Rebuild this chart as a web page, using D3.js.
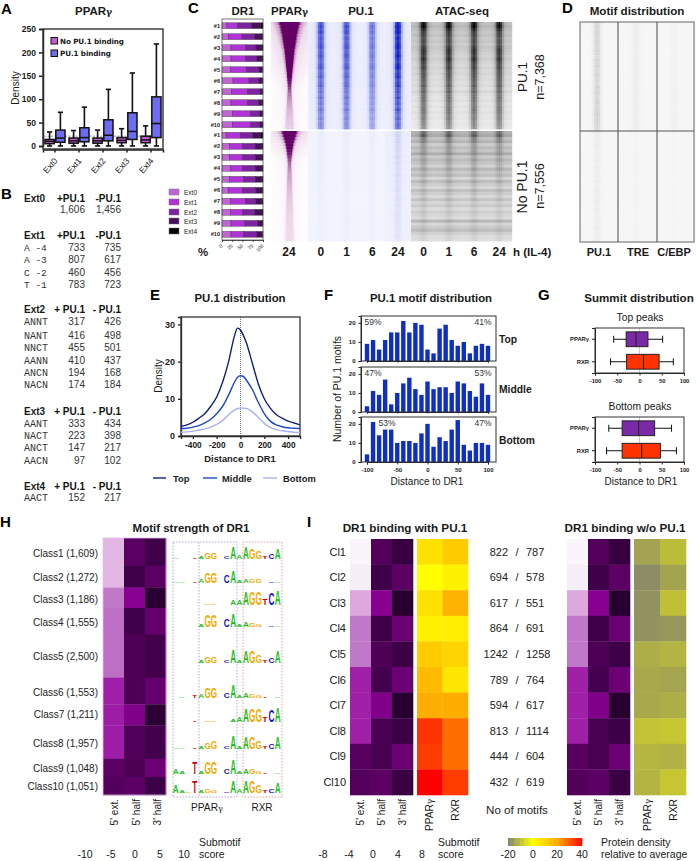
<!DOCTYPE html>
<html><head><meta charset="utf-8">
<script src="https://cdnjs.cloudflare.com/ajax/libs/d3/7.8.5/d3.min.js"></script>
<style>
html,body{margin:0;padding:0;background:#fff}
svg{display:block}
text{font-family:"Liberation Sans",Arial,sans-serif;fill:#1a1a1a}
</style></head><body><div id="c"></div>
<script>
// ---------- DATA ----------
const extNames=["Ext0","Ext1","Ext2","Ext3","Ext4"];
// [low, q1, median, q3, high]
const boxNoPU=[[0,5,10,14,30],[0,6,11,17,33],[0,6,11,17,34],[0,7,12,18,37],[0,7,13,21,43]];
const boxPU=[[0,8,17,34,72],[0,9,18,39,83],[0,11,23,56,121],[0,14,31,71,156],[0,18,48,105,218]];
const tableRows=[
 ["h","Ext0","+PU.1","-PU.1",198],["","","1,606","1,456",209],
 ["h","Ext1","+PU.1","-PU.1",235],["s","A -4","733","735",247],["s","A -3","807","617",259],["s","C -2","460","456",272],["s","T -1","783","723",284],
 ["h","Ext2","+ PU.1","- PU.1",309],["m","ANNT","317","426",321],["m","NANT","416","498",335],["m","NNCT","455","501",347],["m","AANN","410","437",360],["m","ANCN","194","168",372],["m","NACN","174","184",384],
 ["h","Ext3","+ PU.1","- PU.1",411],["m","AANT","333","434",423],["m","NACT","223","398",435],["m","ANCT","147","217",447],["m","AACN","97","102",460],
 ["h","Ext4","+ PU.1","- PU.1",486],["m","AACT","152","217",497]];
const dr1Top=[[11,27,34,22,6],[15,34,31,19,1],[22,36,25,13,4],[22,36,27,12,3],[21,38,30,10,1],[27,39,23,11,0],[23,40,30,6,1],[22,40,27,8,3],[26,43,22,8,1],[25,44,23,6,2]];
const dr1Bottom=[[10,35,30,20,5],[18,32,31,16,3],[18,32,31,16,3],[20,30,31,16,3],[18,34,29,16,3],[15,36,31,16,2],[20,38,24,15,3],[20,31,29,16,4],[22,34,31,11,2],[22,31,31,15,1]];
const pparWidthTop=[10.5,9.5,8.8,8.2,7.5,7,6.6,6.1,5.6,5,4.7,4.4,4.1,3.8,3.5,3.2,2.9,2.6,2.3,2.1,1.9,1.8,1.8,1.9,2,2.2,2.4,2.6,2.8,3,3.2,3.4,3.6,3.8,4,4.2];
const pparPeakTop=[1,1,1,1,1,1,1,1,1,1,1,1,1,1,1,1,1,1,.98,.95,.9,.82,.72,.62,.54,.48,.43,.39,.36,.33,.31,.29,.27,.25,.24,.22];
const pparWidthBottom=[7.5,6.5,5.5,4.6,3.8,3.2,2.8,2.4,2.1,1.9,1.8,1.8,1.9,2,2.1,2.2,2.3,2.4,2.5,2.6,2.7,2.8,2.9,3,3.1,3.2,3.3,3.4,3.5,3.6,3.7,3.8,3.9,4,4.1,4.2];
const pparPeakBottom=[1,1,1,1,1,1,.95,.88,.78,.68,.6,.54,.48,.44,.4,.38,.35,.33,.31,.3,.28,.27,.26,.24,.23,.22,.21,.2,.2,.19,.18,.18,.17,.17,.16,.16];
const puRowsTop=[.85,1,.9,.98,.8,.9,.82,.88,.95,.8,.84,.92,.8,.76,.86,.9,.72,.78,.85,.7,.75,.8,.66,.7,.62,.72,.6,.66,.56,.7,.58,.52,.6,.5,.55,.52];
const puRowsBottom=[.09,.1,.09,.1,.08,.09,.08,.07,.09,.07,.08,.06,.07,.06,.08,.06,.07,.06,.06,.07,.05,.06,.06,.05,.06,.05,.05,.06,.05,.05,.05,.04,.05,.04,.05,.04];
const puTimes=["0","1","6","24"];
const puGain=[.8,.8,.6,1.1];
const puGainBottom=[.3,.3,.3,1.1];
const puProfile=[.01,.02,.03,.06,.25,.8,1,.8,.25,.06,.03,.02,.01];
const atacBgTop=[.24,.27,.24,.21,.24,.2,.22,.19,.22,.2,.18,.16,.19,.16,.14,.17,.14,.16,.13,.14,.12,.14,.11,.15,.12,.1,.12,.09,.11,.09,.11,.09,.1,.08,.09,.08];
const atacPeakTop=[.72,.74,.64,.58,.52,.52,.52,.52,.56,.64,.64,.62,.66,.62,.6,.6,.56,.54,.56,.52,.52,.54,.5,.5,.46,.5,.46,.46,.44,.48,.44,.42,.42,.4,.38,.35];
const atacBgBottom=[.3,.34,.24,.3,.2,.27,.23,.33,.21,.27,.23,.18,.28,.21,.25,.16,.26,.2,.16,.25,.2,.15,.23,.16,.21,.14,.19,.16,.14,.28,.16,.21,.26,.18,.14,.13];
const atacPeakBottom=[.3,.34,.28,.22,.2,.16,.18,.14,.14,.14,.12,.14,.12,.1,.1,.1,.1,.08,.08,.08,.08,.08,.08,.06,.06,.06,.06,.06,.06,.06,.05,.05,.05,.05,.05,.05];
const atacTimes=["0","1","6","24"];
const atacProfile=[.01,.02,.04,.1,.32,.82,1,.82,.32,.1,.04,.02,.01];
const motifRowsTop=[.12,.14,.13,.15,.14,.13,.15,.14,.13,.15,.14,.12,.15,.14,.16,.13,.14,.16,.13,.14,.12,.16,.14,.15,.13,.14,.16,.13,.14,.15,.16,.14,.16,.15,.14,.13];
const motifRowsBottom=[.05,.04,.05,.04,.05,.05,.04,.05,.04,.05,.04,.05,.04,.04,.05,.04,.05,.04,.04,.05,.04,.04,.05,.04,.04,.05,.04,.04,.05,.04,.04,.05,.04,.04,.05,.04];
const motifGain=[1,.5,.3];
const motifProfile=[0,0,0,0,0,.06,.3,.75,1,.75,.3,.06,0,0,0,0,0,0,0];
const motifNames=["PU.1","TRE","C/EBP"];
const eX=[-500,-450,-400,-350,-300,-250,-200,-150,-100,-50,-25,0,25,50,100,150,200,250,300,350,400,450,500];
const eTop=[2.6,3,3.7,4.8,6,8,10.5,14.5,20,27,29,28.5,27,25,19.5,14,10,7.5,5.8,4.8,4,3.5,3];
const eMid=[2,2.1,2.4,2.8,3.5,4.5,6,8,11,14.5,15.8,16.2,16,15,12.5,9,6,4,3,2.5,2.2,2.1,2];
const eBot=[1,1.1,1.3,1.6,1.9,2.4,3.1,4.2,5.7,7,7.4,7.5,7.5,7.4,6.5,5,3.4,2.3,1.7,1.4,1.2,1,.9];
const fBins=[-100,-90,-80,-70,-60,-50,-40,-30,-20,-10,0,10,20,30,40,50,60,70,80,90,100];
const fTop=[9,11,6,11,15,15,21,15,20,19,6,4,17,19,11,8,10,4,8,9,8];
const fMid=[3,11,9,17,4,10,15,18,12,9,16,12,13,13,10,16,15,11,8,15,9];
const fBot=[4,21,14,17,17,10,11,11,10,15,20,8,13,11,17,22,9,6,10,10,9];
const gTop=[[-58,-30,-8,19,52],[-65,-29,9,44,76]];
const gBot=[[-69,-39,-2,34,72],[-74,-39,5,47,83]];
const classNames=["Class1 (1,609)","Class2 (1,272)","Class3 (1,186)","Class4 (1,555)","Class5 (2,500)","Class6 (1,553)","Class7 (1,211)","Class8 (1,957)","Class9 (1,048)","Class10 (1,051)"];
const classSizes=[1609,1272,1186,1555,2500,1553,1211,1957,1048,1051];
const scoresH=[[-6.8,3.9,6.3],[-6.8,6.2,3.9],[-3.8,1.2,8.5],[-3.5,6,3.3],[-3.5,5,5.8],[-1.2,5,3.2],[-1,1.7,8.2],[-1,4.7,5.8],[3.9,5.2,2.7],[4.5,3.7,6.5]];
const logoLetters=["A","A","G","T","A","G","G","A","C","A","A","A","G","G","T","C","A"];
const logoHeights=[
 [1,0,0,1,3,6,6,0,2,12,4,11,10,7,3,5,10],
 [1,1,0,1,4,10,10,0,7,12,3,4,4,4,0,1,1],
 [0,0,0,0,0,1,1,0,0,5,5,13,13,13,6,12,14],
 [0,0,0,0,3,11,11,0,7,13,3,5,4,3,0,1,1],
 [0,0,0,0,2,6,6,0,3,13,3,11,11,8,3,5,11],
 [0,1,0,2,4,10,10,0,5,13,3,5,4,3,1,0,1],
 [0,0,0,1,0,1,1,0,0,3,5,13,13,13,5,12,14],
 [1,1,0,1,3,6,7,0,3,13,3,11,11,8,3,5,11],
 [5,3,0,11,3,11,11,0,5,14,3,5,5,3,1,0,1],
 [7,3,1,11,2,4,3,0,1,12,4,11,11,8,3,4,10]];
const logoBaselines=[559,583,605,627,663,698,722,749,774,793];
const clNames=["Cl1","Cl2","Cl3","Cl4","Cl5","Cl6","Cl7","Cl8","Cl9","Cl10"];
const scoresI=[[-7.4,3.6,5.6],[-7,5,3],[-5,1,7],[-3,4.9,2.3],[-3,4,5.1],[-1,4.6,2.2],[-1,1.3,7],[-1,4.3,5.2],[3.3,4.3,2.3],[3.7,3,5.3]];
const densityWith=[[7,12],[0,3],[7,18],[3,4],[12,10],[16,6],[19,19],[34,27],[33,27],[40,33]];
const densityWithout=[[-14.5,-10.5],[-18,-14.3],[-17,-10],[-17,-16.4],[-12.8,-11.8],[-13.5,-14.2],[-13.5,-12.8],[-9.5,-9],[-11.7,-12.3],[-11.8,-9]];
const motifCountsA=[822,694,617,864,1242,789,594,813,444,432];
const motifCountsB=[787,578,551,691,1258,764,617,1114,604,619];

// ---------- HELPERS ----------
const svg=d3.select("#c").append("svg").attr("width",696).attr("height",861);
const G=svg.append("g");
const plain=d=>String(d);
function T(x,y,s,o={}){
  const t=G.append("text").attr("x",x).attr("y",y).text(s)
    .attr("font-size",o.size||10).attr("text-anchor",o.a||"start")
    .attr("font-weight",o.b?"bold":"normal");
  if(o.family)t.style("font-family",o.family);
  if(o.fill)t.style("fill",o.fill);
  if(o.rot!=null)t.attr("transform",`rotate(${o.rot} ${x} ${y})`);
  if(o.ls)t.attr("letter-spacing",o.ls);
  return t;
}
function Tg(x,y,base,o={}){ // text + small gamma
  const t=T(x,y,base,o);
  t.append("tspan").text("γ").attr("font-size",(o.size||10)*.8).style("font-family","'DejaVu Serif'");
  return t;
}
function styleAxis(g,w,size,bold){
  g.selectAll("path,line").attr("stroke","#222").attr("stroke-width",w);
  g.selectAll("text").attr("font-size",size).attr("font-weight",bold?"bold":"normal");
  g.selectAll("text").style("font-family","'Liberation Sans'").style("fill","#1a1a1a");
}
function frame(x0,y0,x1,y1,w=1.2,c="#333"){
  G.append("rect").attr("x",x0).attr("y",y0).attr("width",x1-x0).attr("height",y1-y0)
   .attr("fill","none").attr("stroke",c).attr("stroke-width",w);
}
const letters=[["A",1,14],["B",1,199],["C",188,13],["D",562,13],["E",150,300],["F",324,300],["G",538,300],["H",0,527],["I",307,527]];
letters.forEach(d=>T(d[1],d[2],d[0],{size:15,b:true,fill:"#000"}));

// ---------- A ----------
const colNo="#c95ad6",colPU="#6c6cf2";
Tg(75,15,"PPAR",{size:11.5,b:true});
{
 const x=d3.scaleBand().domain(extNames).range([43,163]);
 const y=d3.scaleLinear().domain([0,250]).range([146,29]);
 G.append("g").attr("transform","translate(0,149.5)").call(d3.axisBottom(x).tickSize(3).tickFormat(""))
  .call(g=>styleAxis(g,1.5,8));
 G.append("g").attr("transform","translate(43,0)").call(d3.axisLeft(y).tickValues([0,50,100,150,200,250]).tickSize(4))
  .call(g=>styleAxis(g,1.5,8.5,true));
 frame(43,29,163,149,1.4);
 G.append("line").attr("x1",44).attr("x2",162).attr("y1",y(21)).attr("y2",y(21)).attr("stroke","#778").attr("stroke-dasharray","2,1.5").attr("stroke-width",.8);
 const drawBox=(b,cx,fill)=>{
  const hw=4.6;
  G.append("line").attr("x1",cx).attr("x2",cx).attr("y1",y(b[0])).attr("y2",y(b[4])).attr("stroke","#111").attr("stroke-width",1.6);
  [b[0],b[4]].forEach(v=>G.append("line").attr("x1",cx-2.6).attr("x2",cx+2.6).attr("y1",y(v)).attr("y2",y(v)).attr("stroke","#111").attr("stroke-width",1.6));
  G.append("rect").attr("x",cx-hw).attr("width",2*hw).attr("y",y(b[3])).attr("height",y(b[1])-y(b[3])).attr("fill",fill).attr("stroke","#111").attr("stroke-width",1.5);
  G.append("line").attr("x1",cx-hw).attr("x2",cx+hw).attr("y1",y(b[2])).attr("y2",y(b[2])).attr("stroke","#111").attr("stroke-width",1.5);
 };
 extNames.forEach((e,i)=>{
  const c=x(e)+x.bandwidth()/2;
  drawBox(boxNoPU[i],c-5.4,colNo); drawBox(boxPU[i],c+5.4,colPU);
  T(c+3,161,e,{size:8.5,a:"end",rot:-50});
 });
 G.append("text").attr("x",0).attr("y",0).text("Density").attr("font-size",10).attr("text-anchor","middle").attr("transform","translate(19,88) rotate(-90)");
 [[colNo,"No PU.1 binding",41],[colPU,"PU.1 binding",53.5]].forEach(d=>{
  G.append("rect").attr("x",51).attr("y",d[2]-3.5).attr("width",6.5).attr("height",6.5).attr("fill",d[0]).attr("stroke","#111");
  T(60,d[2]+2.5,d[1],{size:7.2,b:true,family:"'DejaVu Sans'",ls:-.1});
 });
}

// ---------- B ----------
tableRows.forEach(r=>{
 const bold=r[0]==="h";
 const lab=bold?{size:10,b:true}:{size:r[0]==="m"?10:9.5,family:"'Liberation Mono'",fill:"#333"};
 if(r[1]) T(24,r[4]+3.5,r[1],lab);
 T(85,r[4]+3.5,r[2],{size:10,a:"end",b:bold,fill:bold?"#111":"#333"});
 T(121,r[4]+3.5,r[3],{size:10,a:"end",b:bold,fill:bold?"#111":"#333"});
});

// ---------- C ----------
const extCols=["#c264d6","#b032d8","#7d22a0","#47105c","#000000"];
[["DR1",243],["PU.1",361],["ATAC-seq",462]].forEach(d=>T(d[1],15,d[0],{size:11.5,b:true,a:"middle"}));
Tg(271,15,"PPAR",{size:11.5,b:true});
{
 const xP=d3.scaleLinear().domain([0,100]).range([222,263]);
 const rowsCenter=(rows,y0)=>rows.forEach((r,i)=>{
  const yc=y0+i*11; let acc=0;
  r.forEach((v,j)=>{
   G.append("rect").attr("x",xP(acc)).attr("y",yc-2.9).attr("width",xP(acc+v)-xP(acc)).attr("height",5.8)
    .attr("fill",extCols[j]).attr("stroke","#333").attr("stroke-width",.4);
   acc+=v;
  });
  T(220,yc+2,"#"+(i+1),{size:5.6,b:true,a:"end"});
 });
 rowsCenter(dr1Top,25.7); rowsCenter(dr1Bottom,135.3);
 frame(222,19,263,240,.8,"#555");
 const ax=G.append("g").attr("transform","translate(0,240)").call(d3.axisBottom(xP).tickValues([0,25,50,75,100]).tickSize(2));
 styleAxis(ax,.7,5);
 ax.selectAll("text").attr("transform","rotate(-45) translate(-4,-2)").attr("text-anchor","end").attr("dy",".35em");
 extNames.forEach((e,i)=>{
  const yy=[192,202,212,221,231][i];
  G.append("rect").attr("x",169).attr("y",yy-3).attr("width",10).attr("height",6).attr("fill",extCols[i]).attr("stroke","#777").attr("stroke-width",.5);
  T(184,yy+2.5,e,{size:6.5});
 });
 T(203,256,"%",{size:11.5,b:true,a:"middle"});
 // heatmaps
 const purple=d3.scaleLinear().domain([0,.12,.3,.7,1]).range(["#ffffff","#f4e6f2","#dfbfdb","#9a4a96","#640066"]).clamp(true);
 const fall=d3.scaleLinear().domain([0,.85,1.15,1.8,3.5,8]).range([1,1,.42,.16,.09,.03]).clamp(true);
 const bandsY=(n,y0,y1)=>d3.scaleBand().domain(d3.range(n)).range([y0,y1]);
 const cellsAt=(y,x0,cw,nc,cellFn,n)=>{
  d3.range(n).forEach(r=>{
   d3.range(nc).forEach(c=>{
    G.append("rect").attr("x",x0+c*cw).attr("y",y(r)).attr("width",cw+.4).attr("height",y.bandwidth()+.4).attr("fill",cellFn(r,c));
   });
  });
 };
 const Ytop=bandsY(36,22,129), Ybot=bandsY(36,131,241);
 const pparCell=(W,P)=>(r,c)=>{const d=Math.abs(c+.5-18.5); return purple(P[r]*fall(d/W[r]));};
 cellsAt(Ytop,271,1,37,pparCell(pparWidthTop,pparPeakTop),36);
 cellsAt(Ybot,271,1,37,pparCell(pparWidthBottom,pparPeakBottom),36);
 T(289,256,"24",{size:12,b:true,a:"middle"});
 // PU.1
 const blue=d3.scaleLinear().domain([0,.3,1]).range(["#f6f7fe","#a4abec","#1220cc"]).clamp(true);
 puTimes.forEach((t,i)=>{
  const x0=308+i*25.7;
  cellsAt(Ytop,x0,25.7/13,13,(r,c)=>blue(puRowsTop[r]*puGain[i]*puProfile[c]+.03),36);
  cellsAt(Ybot,x0,25.7/13,13,(r,c)=>blue(puRowsBottom[r]*puGainBottom[i]*(puProfile[c]+.2*(i==3?1:0))+.015),36);
  T(x0+12.9,256,t,{size:12,b:true,a:"middle"});
 });
 // ATAC
 const gray=d3.scaleLinear().domain([0,1]).range(["#ffffff","#050505"]).clamp(true);
 atacTimes.forEach((t,i)=>{
  const x0=411+i*25.2;
  cellsAt(Ytop,x0,25.2/13,13,(r,c)=>gray(atacBgTop[r]+atacPeakTop[r]*atacProfile[c]),36);
  cellsAt(Ybot,x0,25.2/13,13,(r,c)=>gray(atacBgBottom[r]+atacPeakBottom[r]*atacProfile[c]),36);
  T(x0+12.6,256,t,{size:12,b:true,a:"middle"});
 });
 T(513,256,"h (IL-4)",{size:11.5,b:true});
 [["PU.1",527,77,13.5],["n=7,368",544,77,12.5],["No PU.1",527,187,14],["n=7,556",544,186,12.5]].forEach(d=>
   G.append("text").text(d[0]).attr("font-size",d[3]).attr("text-anchor","middle").attr("transform",`translate(${d[1]},${d[2]}) rotate(-90)`));
}

// ---------- D ----------
T(637,15,"Motif distribution",{size:11.6,b:true,a:"middle"});
{
 const gray=d3.scaleLinear().domain([0,1]).range(["#f6f6f6","#8a8a8a"]).clamp(true);
 const xs=[580,618.5,657];
 const cw=38.3/19;
 const yT=d3.scaleBand().domain(d3.range(36)).range([22,131]);
 const yB=d3.scaleBand().domain(d3.range(36)).range([131,242]);
 motifNames.forEach((n,i)=>{
  [[yT,motifRowsTop],[yB,motifRowsBottom]].forEach(([y,R],g)=>{
   d3.range(36).forEach(r=>d3.range(19).forEach(c=>{
    G.append("rect").attr("x",xs[i]+c*cw).attr("y",y(r)).attr("width",cw+.3).attr("height",y.bandwidth()+.3)
     .attr("fill",gray((i==0?R[r]*2.2:R[r]*motifGain[i]*1.2)*motifProfile[c]));
   }));
  });
  T([599,638,674][i],256,n,{size:11,b:true,a:"middle"});
 });
 frame(580,22,694,242,1,"#666");
 [618,657].forEach(x=>G.append("line").attr("x1",x).attr("x2",x).attr("y1",22).attr("y2",242).attr("stroke","#333").attr("stroke-width",.9));
 G.append("line").attr("x1",580).attr("x2",694).attr("y1",131).attr("y2",131).attr("stroke","#555").attr("stroke-width",1);
}

// ---------- E ----------
T(240,302,"PU.1 distribution",{size:11.4,b:true,a:"middle"});
{
 const x=d3.scaleLinear().domain([-500,500]).range([181,300]);
 const y=d3.scaleLinear().domain([0,32]).range([436,317]);
 G.append("g").attr("transform","translate(0,436)").call(d3.axisBottom(x).tickValues([-400,-200,0,200,400]).tickSize(3).tickFormat(plain)).call(g=>styleAxis(g,1.3,8.3,true));
 G.append("g").attr("transform","translate(181,0)").call(d3.axisLeft(y).tickValues([0,10,20,30]).tickSize(3)).call(g=>styleAxis(g,1.3,9,true));
 frame(181,317,300,436,1.3);
 G.append("line").attr("x1",x(0)).attr("x2",x(0)).attr("y1",317).attr("y2",436).attr("stroke","#333").attr("stroke-dasharray","1,1").attr("stroke-width",.7);
 const line=d3.line().x((d,i)=>x(eX[i])).y(d=>y(d)).curve(d3.curveMonotoneX);
 const cols=["#141f78","#1f46cc","#a9b2ee"];
 [eTop,eMid,eBot].forEach((s,i)=>G.append("path").attr("d",line(s)).attr("fill","none").attr("stroke",cols[i]).attr("stroke-width",1.4));
 T(240,462,"Distance to DR1",{size:9.3,b:true,a:"middle"});
 [[153,166,173,"Top"],[203,217,222,"Middle"],[263,277,283,"Bottom"]].forEach((d,i)=>{
  G.append("line").attr("x1",d[0]).attr("x2",d[1]).attr("y1",478).attr("y2",478).attr("stroke",cols[i]).attr("stroke-width",1.4);
  T(d[2],482,d[3],{size:9.4,b:true,fill:"#222"});
 });
 G.append("text").text("Density").attr("font-size",10).attr("text-anchor","middle").attr("transform","translate(161.5,376) rotate(-90)");
}

// ---------- F ----------
T(431,302,"PU.1 motif distribution",{size:11.4,b:true,a:"middle"});
{
 const x=d3.scaleLinear().domain([-100,100]).range([367,488]);
 const panels=[[fTop,316,361,"59%","41%","Top",373],[fMid,367,412,"47%","53%","Middle",373],[fBot,417,462,"53%","47%","Bottom",387]];
 panels.forEach(([v,y0,y1,l,r,name,lx],pi)=>{
  const y=d3.scaleLinear().domain([0,23.6]).range([y1,y0]);
  G.selectAll(null).data(v).join("rect").attr("x",(d,i)=>x(fBins[i])-2.2).attr("width",4.4)
   .attr("y",d=>y(d)).attr("height",d=>y1-y(d)).attr("fill","#0f2fc4");
  G.append("g").attr("transform",`translate(361,0)`).call(d3.axisLeft(y).tickValues([0,10,20]).tickSize(2.5)).call(g=>styleAxis(g,1,6,true));
  const ax=G.append("g").attr("transform",`translate(0,${y1})`).call(d3.axisBottom(x).tickValues([-100,-50,0,50,100]).tickSize(pi==2?2.5:1.5).tickFormat(pi==2?plain:""));
  styleAxis(ax,1,6,true);
  frame(361,y0,496,y1,1);
  T(lx,y0+9,l,{size:8.5,a:"middle",fill:"#333"});
  T(483,y0+9,r,{size:8.5,a:"middle",fill:"#333"});
  T(499,[343,393,444][pi],name,{size:10.3,b:true});
 });
 G.append("text").text("Number of PU.1 motifs").attr("font-size",10.5).attr("text-anchor","middle").attr("transform","translate(341,389) rotate(-90)");
 T(427,485,"Distance to DR1",{size:10,a:"middle"});
}

// ---------- G ----------
T(639,302,"Summit distribution",{size:11.6,b:true,a:"middle"});
{
 const x=d3.scaleLinear().domain([-100,100]).range([595,684]);
 [[gTop,328,373,"Top peaks",321],[gBot,417,462,"Bottom peaks",410]].forEach(([v,y0,y1,t,ty])=>{
  T(640,ty,t,{size:10.3,a:"middle"});
  G.append("line").attr("x1",x(0)).attr("x2",x(0)).attr("y1",y0).attr("y2",y1).attr("stroke","#ccc").attr("stroke-width",1);
  const y=d3.scaleBand().domain(["PPARγ","RXR"]).range([y0,y1]);
  [v[0],v[1]].forEach((b,i)=>{
   const c=y(["PPARγ","RXR"][i])+y.bandwidth()/2, hh=7.4;
   G.append("line").attr("x1",x(b[0])).attr("x2",x(b[4])).attr("y1",c).attr("y2",c).attr("stroke","#111").attr("stroke-width",1);
   [b[0],b[4]].forEach(q=>G.append("line").attr("x1",x(q)).attr("x2",x(q)).attr("y1",c-3.5).attr("y2",c+3.5).attr("stroke","#111").attr("stroke-width",1));
   G.append("rect").attr("x",x(b[1])).attr("width",x(b[3])-x(b[1])).attr("y",c-hh).attr("height",2*hh).attr("fill",i?"#ff3300":"#7a2aa6").attr("stroke","#222").attr("stroke-width",1);
   G.append("line").attr("x1",x(b[2])).attr("x2",x(b[2])).attr("y1",c-hh).attr("y2",c+hh).attr("stroke","#222").attr("stroke-width",1);
  });
  const ax=G.append("g").attr("transform",`translate(595,0)`).call(d3.axisLeft(y).tickSize(3));
  styleAxis(ax,1,5.8,true);
  const bx=G.append("g").attr("transform",`translate(0,${y1})`).call(d3.axisBottom(x).tickValues([-100,-50,0,50,100]).tickSize(2.5).tickFormat(plain));
  styleAxis(bx,1,5.8,true);
  frame(595,y0,684,y1,1,"#333");
 });
 T(641,485,"Distance to DR1",{size:10,a:"middle"});
}

// ---------- H ----------
const purpleStops=[-1,-.875,-.625,-.375,-.125,.125,.375,.625,.875];
const purpleCols=["#ffffff","#f6eef6","#dda8dd","#c078c8","#a020a8","#880090","#5c0064","#3e0048","#280030"];
const purpleH=d3.scaleLinear().domain(purpleStops.map(t=>t*10)).range(purpleCols).clamp(true);
const purpleI=d3.scaleLinear().domain(purpleStops.map(t=>t*8)).range(purpleCols).clamp(true);
const density=d3.scaleLinear().domain([-20,0,20,40]).range(["#808070","#ffff00","#ffaa00","#ff0000"]);
T(191,532,"Motif strength of DR1",{size:11.5,b:true,a:"middle"});
{
 const total=d3.sum(classSizes);
 const yS=d3.scaleLinear().domain([0,total]).range([538,795]);
 const xC=d3.scaleBand().domain([0,1,2]).range([103,166]);
 let acc=0;
 const labelY=[553,577,599,622,656,692,714,743,768,786];
 classSizes.forEach((n,i)=>{
  scoresH[i].forEach((s,j)=>G.append("rect").attr("x",xC(j)).attr("width",xC.bandwidth()+.3).attr("y",yS(acc)).attr("height",yS(acc+n)-yS(acc)+.3).attr("fill",purpleH(s)));
  acc+=n;
  T(98,labelY[i]+3.5,classNames[i],{size:10,a:"end",fill:"#222"});
 });
 frame(103,538,166,795,.8,"#e6bfe6");
 // logos
 const xL=d3.scaleLinear().domain([0,16]).range([175.7,277.8]);
 const cols={A:"#1fbf1f",C:"#1414c0",G:"#f4a800",T:"#d40000"};
 logoHeights.forEach((h,i)=>h.forEach((v,j)=>{
  if(!v) return;
  G.append("text").text(logoLetters[j]).attr("font-size",10).attr("font-weight","bold").attr("text-anchor","middle")
   .style("fill",cols[logoLetters[j]])
   .attr("transform",`translate(${xL(j)},${logoBaselines[i]}) scale(.82,${v/6.9})`);
 }));
 G.append("rect").attr("x",173).attr("y",542).attr("width",64).attr("height",255).attr("fill","none").attr("stroke","#8a6ad0").attr("stroke-width",.6).attr("stroke-dasharray","1.5,1.5");
 G.append("line").attr("x1",199).attr("x2",199).attr("y1",542).attr("y2",797).attr("stroke","#8a6ad0").attr("stroke-width",.6).attr("stroke-dasharray","1.5,1.5");
 G.append("rect").attr("x",243).attr("y",542).attr("width",39).attr("height",255).attr("fill","none").attr("stroke","#e06060").attr("stroke-width",.6).attr("stroke-dasharray","1.5,1.5");
 Tg(191,811,"PPAR",{size:10.2});
 T(262,811,"RXR",{size:10,a:"middle"});
 ["5' ext.","5' half","3' half"].forEach((s,j)=>G.append("text").text(s).attr("font-size",10).attr("text-anchor","end").attr("transform",`translate(${[118,140,161][j]},799) rotate(-90)`));
 T(199,846,"Submotif",{size:10.5}); T(199,858,"score",{size:10.5});
 [[-10,85],[-5,111],[0,135],[5,160],[10,184]].forEach(d=>T(d[1],858,d[0],{size:10.5,a:"middle"}));
}

// ---------- I ----------
{
 const y=d3.scaleBand().domain(d3.range(10)).range([539,795]);
 const heat=(xa,xb,dens,first,titleX,title)=>{
  const x1=d3.scaleBand().domain([0,1,2]).range(xa);
  const x2=d3.scaleBand().domain([0,1]).range(xb);
  scoresI.forEach((r,i)=>{
   r.forEach((s,j)=>G.append("rect").attr("x",x1(j)).attr("y",y(i)).attr("width",x1.bandwidth()+.3).attr("height",y.bandwidth()+.3).attr("fill",purpleI(s)));
   dens[i].forEach((s,j)=>G.append("rect").attr("x",x2(j)).attr("y",y(i)).attr("width",x2.bandwidth()+.3).attr("height",y.bandwidth()+.3).attr("fill",density(s)));
  });
  T(titleX,532,title,{size:11.7,b:true,a:"middle"});
  ["5' ext.","5' half","3' half"].forEach((s,j)=>G.append("text").text(s).attr("font-size",10).attr("text-anchor","end").attr("transform",`translate(${x1(j)+x1.bandwidth()/2+3.5},799) rotate(-90)`));
  const tp=G.append("text").attr("font-size",10.2).attr("text-anchor","end").attr("transform",`translate(${x2(0)+x2.bandwidth()/2+3.5},799) rotate(-90)`).text("PPAR");
  tp.append("tspan").text("γ").attr("font-size",8.5).style("font-family","'DejaVu Serif'");
  G.append("text").text("RXR").attr("font-size",10.3).attr("text-anchor","end").attr("transform",`translate(${x2(1)+x2.bandwidth()/2+3.5},799) rotate(-90)`);
 };
 heat([350,413],[417,468],densityWith,true,405,"DR1 binding with PU.1");
 heat([567,630],[634,686],densityWithout,false,625,"DR1 binding w/o PU.1");
 clNames.forEach((n,i)=>{
  const yc=y(i)+y.bandwidth()/2;
  T(346,yc+3.8,n,{size:11,a:"end",fill:"#222"});
  T(508,yc+3.8,motifCountsA[i],{size:11,a:"end",fill:"#222"});
  T(517,yc+3.8,"/",{size:11,a:"middle",fill:"#222"});
  T(526,yc+3.8,motifCountsB[i],{size:11,fill:"#222"});
 });
 T(517,814,"No of motifs",{size:11.6,a:"middle",fill:"#222"});
 T(438,846,"Submotif",{size:10.5}); T(438,858,"score",{size:10.5});
 [[-8,323],[-4,349],[0,373],[4,398],[8,422]].forEach(d=>T(d[1],858,d[0],{size:10.5,a:"middle"}));
 // density legend
 const lx=d3.scaleLinear().domain([-20,40]).range([508,582]);
 const ls=d3.range(-20,40,2);
 ls.forEach(v=>G.append("rect").attr("x",lx(v)).attr("y",838).attr("width",lx(v+2)-lx(v)+.3).attr("height",8).attr("fill",density(v+1)));
 [[-20,508],[0,533],[20,557],[40,582]].forEach(d=>T(d[1],858,d[0],{size:10.5,a:"middle"}));
 T(601,846,"Protein density",{size:10.5}); T(601,858,"relative to average",{size:10.5});
}
</script></body></html>
